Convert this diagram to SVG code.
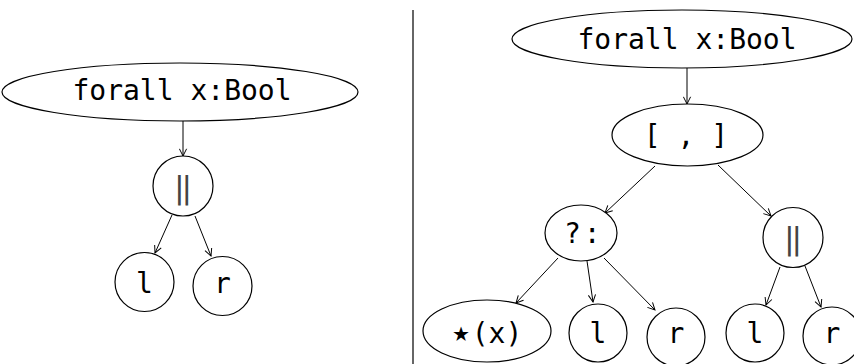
<svg xmlns="http://www.w3.org/2000/svg" width="854" height="364" viewBox="0 0 854 364">
  <style>
    .node { fill: #fff; stroke: #000; stroke-width: 1.2; }
    .lbl { font-family: "DejaVu Sans Mono", "Liberation Mono", monospace; font-size: 28px; fill: #000; text-anchor: middle; }
    .bar { fill: #444; font-size: 31px; }
    .edge { stroke: #000; stroke-width: 1; fill: none; marker-end: url(#arrow); }
    .divider { stroke: #666; stroke-width: 2; }
  </style>
  <defs>
    <marker id="arrow" viewBox="0 0 10 10" refX="9" refY="5" markerWidth="9" markerHeight="9" markerUnits="userSpaceOnUse" orient="auto">
      <polyline points="1,1 9,5 1,9" fill="none" stroke="#000" stroke-width="1.1"/>
    </marker>
  </defs>

  <rect width="854" height="364" fill="#fff"/>

  <!-- separator between the two trees -->
  <line class="divider" x1="413" y1="10" x2="413" y2="364"/>

  <!-- connectors -->
  <g id="edges">
    <line class="edge" x1="183" y1="121" x2="183" y2="156"/>
    <line class="edge" x1="172" y1="215" x2="155" y2="253"/>
    <line class="edge" x1="195" y1="216" x2="211" y2="256"/>

    <line class="edge" x1="687" y1="68" x2="687" y2="104"/>
    <line class="edge" x1="655" y1="166" x2="605" y2="213"/>
    <line class="edge" x1="718" y1="165" x2="771" y2="216"/>
    <line class="edge" x1="558" y1="258" x2="516" y2="303"/>
    <line class="edge" x1="587" y1="261" x2="593" y2="302"/>
    <line class="edge" x1="604" y1="258" x2="655" y2="310"/>
    <line class="edge" x1="780" y1="267" x2="766" y2="305"/>
    <line class="edge" x1="805" y1="266" x2="821" y2="307"/>
  </g>

  <!-- left tree -->
  <g id="l-forall">
    <ellipse class="node" cx="180" cy="92" rx="178" ry="29"/>
    <text class="lbl" x="182" y="100">forall x:Bool</text>
  </g>
  <g id="l-or">
    <circle class="node" cx="183" cy="186" r="30"/>
    <text class="lbl bar" x="183" y="198">‖</text>
  </g>
  <g id="l-l">
    <circle class="node" cx="144.5" cy="282" r="29.5"/>
    <text class="lbl" x="144.5" y="293">l</text>
  </g>
  <g id="l-r">
    <circle class="node" cx="222.5" cy="286" r="29.5"/>
    <text class="lbl" x="222.5" y="293">r</text>
  </g>

  <!-- right tree -->
  <g id="r-forall">
    <ellipse class="node" cx="682" cy="39" rx="170" ry="29"/>
    <text class="lbl" x="687" y="49">forall x:Bool</text>
  </g>
  <g id="r-pair">
    <ellipse class="node" cx="687.5" cy="135" rx="75.5" ry="31"/>
    <text class="lbl" x="686" y="145">[ , ]</text>
  </g>
  <g id="r-cond">
    <ellipse class="node" cx="581" cy="233" rx="36" ry="28"/>
    <text class="lbl" x="564" y="243" style="text-anchor:start;letter-spacing:-7px">? :</text>
  </g>
  <g id="r-or">
    <circle class="node" cx="793" cy="237.5" r="30"/>
    <text class="lbl bar" x="793" y="249">‖</text>
  </g>
  <g id="r-star">
    <ellipse class="node" cx="487" cy="331" rx="64" ry="31"/>
    <text class="lbl" y="343"><tspan x="461" y="347" style="font-family:'DejaVu Sans',sans-serif;font-size:40px">⋆</tspan><tspan x="497" y="343">(x)</tspan></text>
  </g>
  <g id="r-l1">
    <circle class="node" cx="598" cy="333" r="29"/>
    <text class="lbl" x="598" y="343">l</text>
  </g>
  <g id="r-r1">
    <circle class="node" cx="676" cy="337" r="29"/>
    <text class="lbl" x="676" y="343">r</text>
  </g>
  <g id="r-l2">
    <circle class="node" cx="755" cy="333" r="29"/>
    <text class="lbl" x="755" y="343">l</text>
  </g>
  <g id="r-r2">
    <circle class="node" cx="832" cy="336" r="29"/>
    <text class="lbl" x="832" y="343">r</text>
  </g>
</svg>
